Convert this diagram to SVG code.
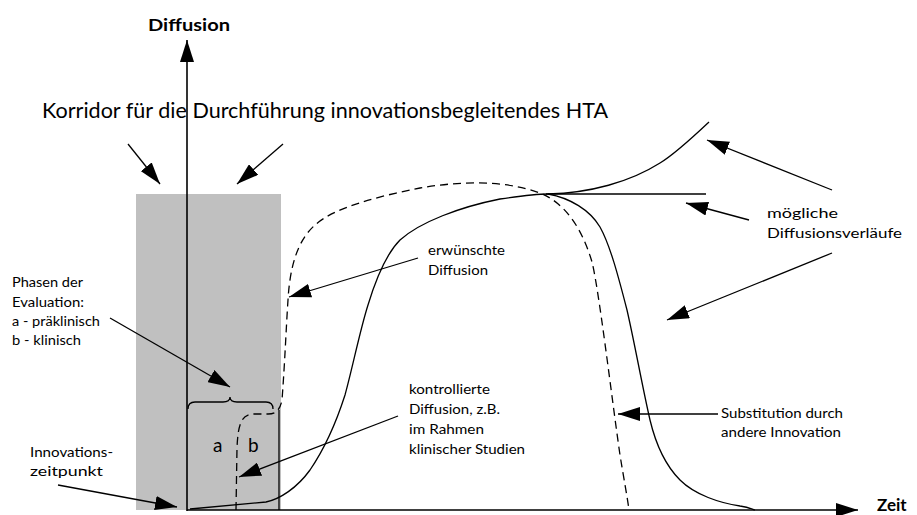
<svg xmlns="http://www.w3.org/2000/svg" width="917" height="515" viewBox="0 0 917 515">
  <style>
    .lbl { font-family: Lato, "Open Sans", "Liberation Sans", sans-serif; font-size: 13.5px; fill: #000; }
    .big { font-family: Lato, "Open Sans", "Liberation Sans", sans-serif; font-size: 21px; fill: #000; }
    .ax { font-family: Lato, "Open Sans", "Liberation Sans", sans-serif; font-size: 17px; font-weight: bold; fill: #000; }
    .ph { font-family: Lato, "Open Sans", "Liberation Sans", sans-serif; font-size: 19px; fill: #000; }
    .line { fill: none; stroke: #000; stroke-width: 1.3; }
    .dash { fill: none; stroke: #000; stroke-width: 1.3; stroke-dasharray: 8 5; }
    .arr { fill: none; stroke: #000; stroke-width: 1.3; marker-end: url(#ah); }
    .axis { fill: none; stroke: #000; stroke-width: 1.6; marker-end: url(#ah); }
  </style>
  <defs>
    <marker id="ah" viewBox="0 0 22 14" refX="22" refY="7" markerWidth="22" markerHeight="14" markerUnits="userSpaceOnUse" orient="auto">
      <path d="M0,0 L22,7 L0,14 z" fill="#000"/>
    </marker>
  </defs>

  <rect width="917" height="515" fill="#fff"/>

  <!-- HTA corridor -->
  <g id="corridor">
    <rect x="136" y="194" width="145" height="316" fill="#c0c0c0"/>
    <text class="big" x="42" y="118" textLength="566" lengthAdjust="spacingAndGlyphs">Korridor für die Durchführung innovationsbegleitendes HTA</text>
  </g>

  <!-- axes -->
  <g id="axes">
    <line class="axis" x1="187" y1="511" x2="187" y2="40"/>
    <line class="axis" x1="187" y1="510" x2="858" y2="510"/>
    <text class="ax" x="148" y="31" textLength="82" lengthAdjust="spacingAndGlyphs">Diffusion</text>
    <text class="ax" x="877" y="511" font-size="16">Zeit</text>
  </g>

  <!-- evaluation phases a / b -->
  <g id="phases">
    <line class="line" x1="279" y1="410" x2="279" y2="510"/>
    <path class="line" d="M188,409 Q188,402 195,402 L223,402 Q230,402 230,397 Q230,402 237,402 L266,402 Q273,402 273,409"/>
    <text class="ph" x="213" y="452">a</text>
    <text class="ph" x="248" y="452">b</text>
  </g>

  <!-- diffusion curves -->
  <g id="curves">
    <!-- desired diffusion (dashed) -->
    <path class="dash" d="M236,510 L237,448 C238,425 241,414 254,414 L268,414 C276,414 280,410 282,400 C285,360 286,330 288,300 C290,265 298,240 315,225 C335,207 380,196 420,188 C460,181 505,180 540,193 C565,203 582,228 592,262 C599,290 612,400 620,455 C624,480 627,495 629,510"/>
    <!-- controlled diffusion, rising curve -->
    <path class="line" d="M190,509 L266,502 C280,499 297,488 310,470 C325,448 337,420 345,395 C352,370 360,330 368,305 C375,282 385,255 400,240 C420,222 460,207 500,199 C520,196 535,194 548,194"/>
    <!-- plateau -->
    <path class="line" d="M546,194 L706,194"/>
    <!-- further growth -->
    <path class="line" d="M548,194 C590,193 630,182 660,163 C675,154 692,138 709,122"/>
    <!-- decline -->
    <path class="line" d="M548,194 C570,198 590,210 600,227 C610,245 618,275 627,310 C635,345 642,385 650,420 C656,445 665,465 680,480 C695,495 720,503 740,506 C748,507 752,509 755,510"/>
  </g>

  <!-- labels -->
  <g id="label-desired">
    <text class="lbl" x="428" y="255" textLength="77" lengthAdjust="spacingAndGlyphs">erwünschte</text>
    <text class="lbl" x="428" y="275" textLength="60" lengthAdjust="spacingAndGlyphs">Diffusion</text>
  </g>
  <g id="label-controlled">
    <text class="lbl" x="409" y="394" textLength="81" lengthAdjust="spacingAndGlyphs">kontrollierte</text>
    <text class="lbl" x="409" y="414" textLength="91" lengthAdjust="spacingAndGlyphs">Diffusion, z.B.</text>
    <text class="lbl" x="409" y="434" textLength="75" lengthAdjust="spacingAndGlyphs">im Rahmen</text>
    <text class="lbl" x="409" y="454" textLength="116" lengthAdjust="spacingAndGlyphs">klinischer Studien</text>
  </g>
  <g id="label-substitution">
    <text class="lbl" x="721" y="418" textLength="122" lengthAdjust="spacingAndGlyphs">Substitution durch</text>
    <text class="lbl" x="721" y="437" textLength="120" lengthAdjust="spacingAndGlyphs">andere Innovation</text>
  </g>
  <g id="label-possible">
    <text class="lbl" x="767" y="218" textLength="71" lengthAdjust="spacingAndGlyphs">mögliche</text>
    <text class="lbl" x="767" y="238" textLength="135" lengthAdjust="spacingAndGlyphs">Diffusionsverläufe</text>
  </g>
  <g id="label-phases">
    <text class="lbl" x="12" y="287" textLength="71" lengthAdjust="spacingAndGlyphs">Phasen der</text>
    <text class="lbl" x="12" y="307" textLength="72" lengthAdjust="spacingAndGlyphs">Evaluation:</text>
    <text class="lbl" x="12" y="326" textLength="88" lengthAdjust="spacingAndGlyphs">a - präklinisch</text>
    <text class="lbl" x="12" y="345" textLength="69" lengthAdjust="spacingAndGlyphs">b - klinisch</text>
  </g>
  <g id="label-start">
    <text class="lbl" x="30" y="457" textLength="83" lengthAdjust="spacingAndGlyphs">Innovations-</text>
    <text class="lbl" x="30" y="476" textLength="73" lengthAdjust="spacingAndGlyphs">zeitpunkt</text>
  </g>

  <!-- pointer arrows -->
  <g id="connectors">
    <line class="arr" x1="128" y1="144" x2="160" y2="184"/>
    <line class="arr" x1="283" y1="144" x2="237" y2="184"/>
    <line class="arr" x1="418" y1="258" x2="289" y2="297"/>
    <line class="arr" x1="398" y1="416" x2="239" y2="477"/>
    <line class="arr" x1="718" y1="414" x2="618" y2="414"/>
    <line class="arr" x1="832" y1="190" x2="707" y2="140"/>
    <line class="arr" x1="749" y1="220" x2="686" y2="203"/>
    <line class="arr" x1="832" y1="253" x2="667" y2="320"/>
    <line class="arr" x1="110" y1="318" x2="230" y2="387"/>
    <line class="arr" x1="58" y1="485" x2="177" y2="507"/>
  </g>
</svg>
